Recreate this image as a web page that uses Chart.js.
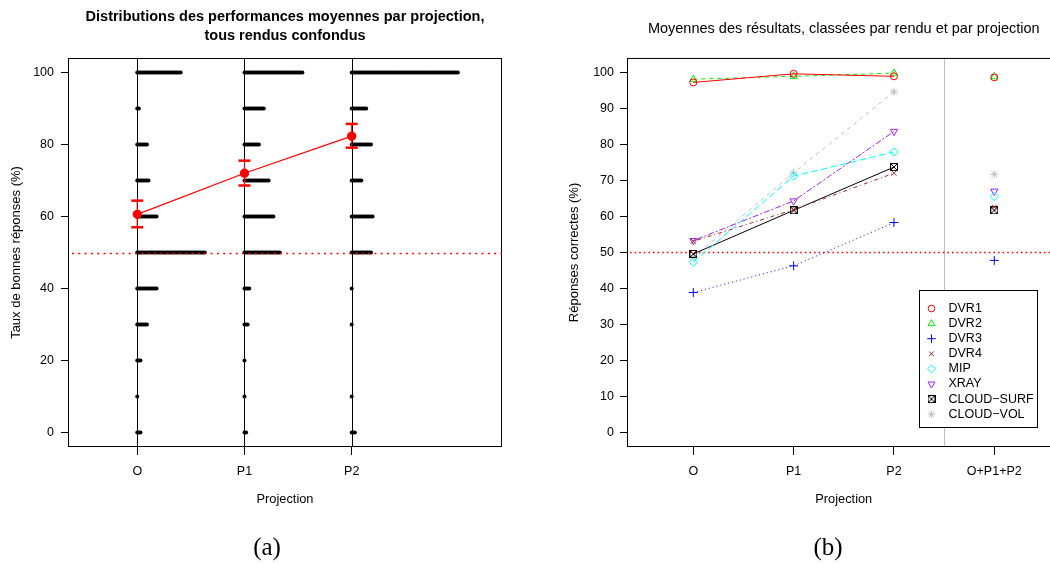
<!DOCTYPE html>
<html lang="fr">
<head>
<meta charset="UTF-8" />
<title>Performances par projection</title>
<script src="https://cdn.jsdelivr.net/npm/chart.js"></script>
<style>
  html, body { margin: 0; padding: 0; background: #fff; overflow: hidden; }
  #wrap { position: relative; width: 1050px; height: 565px; overflow: hidden; }
  #left { position: absolute; left: 0; top: 0; }
  #right { position: absolute; left: 525px; top: 0; }
  .tag { position: absolute; top: 534px; width: 80px; text-align: center;
         font-family: "Liberation Serif", "DejaVu Serif", serif; font-size: 25px; line-height: 25px; color: #000; }
</style>
</head>
<body>
<div id="wrap">
  <canvas id="left" width="525" height="565"></canvas>
  <canvas id="right" width="560" height="565"></canvas>
  <div class="tag" style="left:227px">(a)</div>
  <div class="tag" style="left:788px">(b)</div>
</div>

<script>
  // ---- (a) distributions per projection ----
  const projections = ["O", "P1", "P2"];
  const scoreLevels = [0, 10, 20, 30, 40, 50, 60, 70, 80, 90, 100];
  // number of stacked dots for each score level
  const countsO  = [3, 1, 3, 7, 13, 43, 13, 8, 7, 2, 28];
  const countsP1 = [2, 1, 1, 3, 4, 23, 19, 16, 10, 13, 37];
  const countsP2 = [3, 1, 0, 1, 1, 13, 14, 7, 13, 10, 67];
  const meanScore = [60.6, 72.0, 82.3];
  const ciLow  = [57.0, 68.6, 79.1];
  const ciHigh = [64.4, 75.5, 85.7];
  const leftYTicks = [0, 20, 40, 60, 80, 100];

  // ---- (b) means per rendering and projection ----
  const projectionsB = ["O", "P1", "P2", "O+P1+P2"];
  const renderings = ["DVR1", "DVR2", "DVR3", "DVR4", "MIP", "XRAY", "CLOUD\u2212SURF", "CLOUD\u2212VOL"];
  const dvr1      = [97.2, 99.6, 98.9, 98.6];
  const dvr2      = [98.1, 98.9, 99.8, 98.8];
  const dvr3      = [38.9, 46.3, 58.3, 47.8];
  const dvr4      = [53.1, 61.9, 72.0, 62.6];
  const mip       = [47.3, 71.2, 77.9, 65.5];
  const xray      = [53.3, 64.3, 83.6, 67.0];
  const cloudSurf = [49.6, 61.7, 73.7, 61.7];
  const cloudVol  = [48.7, 72.1, 94.6, 71.7];
  const rightYTicks = [0, 10, 20, 30, 40, 50, 60, 70, 80, 90, 100];
  const chanceLevel = 50;

  const FONT = '"Liberation Sans", Arial, sans-serif';
  const RED = "#ff0000";

  // square with a cross (R pch 7)
  function squareX() {
    const c = document.createElement("canvas");
    c.width = 8; c.height = 8;
    const g = c.getContext("2d");
    g.strokeStyle = "#000"; g.lineWidth = 1;
    g.strokeRect(0.5, 0.5, 7, 7);
    g.beginPath(); g.moveTo(1, 1); g.lineTo(7, 7); g.moveTo(7, 1); g.lineTo(1, 7); g.stroke();
    return c;
  }

  function dotted(ctx, x1, y1, x2, y2, dash, color) {
    ctx.save();
    ctx.strokeStyle = color; ctx.lineWidth = 1.3; ctx.setLineDash(dash);
    ctx.beginPath(); ctx.moveTo(x1, y1); ctx.lineTo(x2, y2); ctx.stroke();
    ctx.restore();
  }

  // ---------------- chart (a) ----------------
  const DOT_STEP = 0.015; // horizontal offset between stacked dots (x units)
  const stackPoints = [];
  [countsO, countsP1, countsP2].forEach((counts, c) => {
    counts.forEach((n, j) => {
      for (let k = 0; k < n; k++) stackPoints.push({ x: c + 1 + k * DOT_STEP, y: scoreLevels[j] });
    });
  });

  const errSets = projections.map((p, i) => ({
    data: [{ x: i + 1, y: ciLow[i] }, { x: i + 1, y: ciHigh[i] }],
    showLine: true,
    borderColor: RED,
    borderWidth: 1.2,
    pointStyle: "line",
    pointRadius: 6,
    pointBorderWidth: 2.5,
    pointBorderColor: RED
  }));

  const leftFrame = {
    id: "leftFrame",
    beforeDatasetsDraw(chart) {
      const { ctx, chartArea: a, scales: { x } } = chart;
      ctx.save();
      ctx.strokeStyle = "#000"; ctx.lineWidth = 1;
      projections.forEach((p, i) => {
        const px = Math.round(x.getPixelForValue(i + 1)) + 0.5;
        ctx.beginPath(); ctx.moveTo(px, a.top); ctx.lineTo(px, a.bottom); ctx.stroke();
      });
      ctx.strokeRect(a.left + 0.5, a.top + 0.5, a.width - 1, a.height - 1);
      ctx.restore();
    },
    afterDatasetsDraw(chart) {
      const { ctx, chartArea: a, scales: { y } } = chart;
      const py = Math.round(y.getPixelForValue(chanceLevel)) + 0.5;
      dotted(ctx, a.left + 4, py, a.right, py, [2, 4.3], RED);
    }
  };

  new Chart(document.getElementById("left"), {
    type: "scatter",
    data: {
      datasets: [
        {
          data: projections.map((p, i) => ({ x: i + 1, y: meanScore[i] })),
          showLine: true,
          borderColor: RED,
          borderWidth: 1.3,
          pointRadius: 4,
          pointBackgroundColor: RED,
          pointBorderColor: RED
        },
        ...errSets,
        {
          data: stackPoints,
          pointRadius: 2,
          pointBorderWidth: 0,
          pointBackgroundColor: "#000"
        }
      ]
    },
    options: {
      responsive: false,
      animation: false,
      layout: { padding: { left: 0, right: 23, top: 0, bottom: 58 } },
      plugins: {
        legend: { display: false },
        tooltip: { enabled: false },
        title: {
          display: true,
          fullSize: false,
          text: ["Distributions des performances moyennes par projection,", "tous rendus confondus"],
          color: "#000",
          font: { family: FONT, size: 14.5, weight: "bold", lineHeight: 1.3 },
          padding: { top: 7.6, bottom: 12.7 }
        }
      },
      scales: {
        x: {
          type: "linear",
          min: 0.354,
          max: 4.402,
          afterBuildTicks: s => { s.ticks = projections.map((p, i) => ({ value: i + 1 })); },
          afterFit: s => { s.height = 60; },
          ticks: {
            callback: (v, i) => projections[i],
            autoSkip: false, maxRotation: 0,
            color: "#000", padding: 9,
            font: { family: FONT, size: 12.5 }
          },
          grid: { drawOnChartArea: false, drawTicks: true, tickLength: 8, color: "#000" },
          border: { display: false },
          title: { display: true, text: "Projection", color: "#000",
                   font: { family: FONT, size: 12.8 }, padding: { top: 0, bottom: 0 } }
        },
        y: {
          min: -4,
          max: 104,
          afterBuildTicks: s => { s.ticks = leftYTicks.map(v => ({ value: v })); },
          afterFit: s => { s.width = 68; },
          ticks: { color: "#000", padding: 7, font: { family: FONT, size: 12.5 } },
          grid: { drawOnChartArea: false, drawTicks: true, tickLength: 7, color: "#000" },
          border: { display: false },
          title: { display: true, text: "Taux de bonnes réponses (%)", color: "#000",
                   font: { family: FONT, size: 13 }, padding: { top: 8.5, bottom: 0 } }
        }
      }
    },
    plugins: [leftFrame]
  });

  // ---------------- chart (b) ----------------
  const seriesValues = [dvr1, dvr2, dvr3, dvr4, mip, xray, cloudSurf, cloudVol];
  const seriesColors = ["#ff0000", "#00ee00", "#0000ff", "#a52a2a", "#00ffff", "#a020f0", "#000000", "#bebebe"];
  const seriesDash = [[], [4, 4], [1, 3], [1, 3, 4, 3], [7, 3], [2, 2, 6, 2], [], [4, 4]];
  const seriesPoint = ["circle", "triangle", "cross", "crossRot", "rectRot", "triangle", squareX(), "star"];
  const seriesRadius = [3.5, 4.2, 4.5, 3.5, 4.2, 4.2, 4, 4];
  const seriesRotation = [0, 0, 0, 0, 0, 180, 0, 0];

  const rightSets = renderings.map((name, i) => ({
    label: name,
    data: seriesValues[i].map((v, j) => ({ x: j + 1, y: v })),
    showLine: true,
    borderColor: seriesColors[i],
    borderWidth: 1,
    borderDash: seriesDash[i],
    segment: { borderColor: c => (c.p1DataIndex === 3 ? "rgba(0,0,0,0)" : undefined) },
    pointStyle: seriesPoint[i],
    pointRadius: seriesRadius[i],
    pointRotation: seriesRotation[i],
    pointBorderWidth: 1,
    pointBorderColor: seriesColors[i],
    pointBackgroundColor: "rgba(0,0,0,0)"
  }));

  const rightFrame = {
    id: "rightFrame",
    beforeDatasetsDraw(chart) {
      const { ctx, chartArea: a, scales: { x, y } } = chart;
      ctx.save();
      ctx.strokeStyle = "#bebebe"; ctx.lineWidth = 1;
      const gx = Math.round(x.getPixelForValue(3.5)) + 0.5;
      ctx.beginPath(); ctx.moveTo(gx, a.top); ctx.lineTo(gx, a.bottom); ctx.stroke();
      ctx.strokeStyle = "#000";
      ctx.strokeRect(a.left + 0.5, a.top + 0.5, a.width - 1, a.height - 1);
      ctx.restore();
      const py = Math.round(y.getPixelForValue(chanceLevel)) + 0.5;
      dotted(ctx, a.left + 3, py, a.right, py, [1.6, 3], RED);
    },
    afterDraw(chart) {
      const ctx = chart.ctx;
      const bx = 394.5, by = 290.5, bw = 118, bh = 137;
      ctx.save();
      ctx.fillStyle = "#fff";
      ctx.fillRect(bx, by, bw, bh);
      ctx.strokeStyle = "#000"; ctx.lineWidth = 1;
      ctx.strokeRect(bx, by, bw, bh);
      ctx.font = "12.5px " + FONT;
      ctx.textBaseline = "middle";
      chart.data.datasets.forEach((ds, i) => {
        const ry = by + 18 + i * 15.1;
        ctx.strokeStyle = seriesColors[i];
        ctx.fillStyle = "rgba(0,0,0,0)";
        ctx.lineWidth = 1;
        Chart.helpers.drawPoint(ctx, {
          pointStyle: seriesPoint[i], radius: seriesRadius[i] * 0.95,
          rotation: seriesRotation[i], borderWidth: 1
        }, bx + 12, ry);
        ctx.fillStyle = "#000";
        ctx.fillText(ds.label, bx + 29, ry);
      });
      ctx.restore();
    }
  };

  new Chart(document.getElementById("right"), {
    type: "scatter",
    data: { datasets: rightSets },
    options: {
      responsive: false,
      animation: false,
      layout: { padding: { left: 0, right: 24.5, top: 0, bottom: 58 } },
      plugins: {
        legend: { display: false },
        tooltip: { enabled: false },
        title: {
          display: true,
          fullSize: false,
          text: "Moyennes des résultats, classées par rendu et par projection",
          color: "#000",
          font: { family: FONT, size: 14.5, weight: "normal", lineHeight: 1.3 },
          padding: { top: 19.5, bottom: 19.6 }
        }
      },
      scales: {
        x: {
          type: "linear",
          min: 0.339,
          max: 4.66,
          afterBuildTicks: s => { s.ticks = projectionsB.map((p, i) => ({ value: i + 1 })); },
          afterFit: s => { s.height = 60; },
          ticks: {
            callback: (v, i) => projectionsB[i],
            autoSkip: false, maxRotation: 0,
            color: "#000", padding: 9,
            font: { family: FONT, size: 12.5 }
          },
          grid: { drawOnChartArea: false, drawTicks: true, tickLength: 8, color: "#000" },
          border: { display: false },
          title: { display: true, text: "Projection", color: "#000",
                   font: { family: FONT, size: 12.8 }, padding: { top: 0, bottom: 0 } }
        },
        y: {
          min: -4,
          max: 104,
          afterBuildTicks: s => { s.ticks = rightYTicks.map(v => ({ value: v })); },
          afterFit: s => { s.width = 102; },
          ticks: { color: "#000", padding: 6, font: { family: FONT, size: 12.5 } },
          grid: { drawOnChartArea: false, drawTicks: true, tickLength: 7, color: "#000" },
          border: { display: false },
          title: { display: true, text: "Réponses correctes (%)", color: "#000",
                   font: { family: FONT, size: 13 }, padding: { top: 42, bottom: 0 } }
        }
      }
    },
    plugins: [rightFrame]
  });
</script>
</body>
</html>
